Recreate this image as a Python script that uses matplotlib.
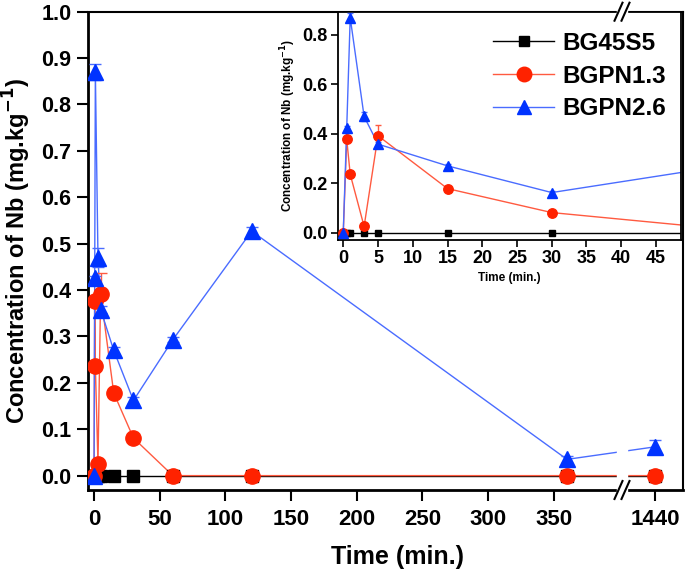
import matplotlib
matplotlib.use("Agg")
import matplotlib.pyplot as plt
import numpy as np
from matplotlib.lines import Line2D
from matplotlib.patches import Rectangle

plt.rcParams["font.family"] = ["Liberation Sans", "DejaVu Sans"]
plt.rcParams["font.weight"] = "bold"

time = np.array([0, 0.5, 1, 3, 5, 15, 30, 60, 120, 360, 1440])
bg45s5 = np.array([0, 0, 0, 0, 0, 0, 0, 0, 0, 0, 0])
bgpn13 = np.array([0, 0.377, 0.236, 0.025, 0.392, 0.178, 0.081, 0, 0, 0, 0])
bgpn13_err = np.array([0, 0.005, 0.005, 0.004, 0.045, 0.005, 0.004, 0, 0, 0, 0])
bgpn26 = np.array([0, 0.425, 0.870, 0.470, 0.358, 0.270, 0.162, 0.293, 0.527, 0.035, 0.062])
bgpn26_err = np.array([0, 0.006, 0.018, 0.020, 0.008, 0.008, 0.008, 0.006, 0.008, 0.008, 0.015])

main_xticks = [0, 50, 100, 150, 200, 250, 300, 350, 1440]
main_yticks = np.round(np.arange(0, 1.01, 0.1), 1)
inset_xticks = [0, 5, 10, 15, 20, 25, 30, 35, 40, 45]
inset_yticks = [0.0, 0.2, 0.4, 0.6, 0.8]

BLACK = "#000000"
RED = "#ff2200"
RED_LINE = "#ff5a40"
BLUE = "#0033ff"
BLUE_LINE = "#4a6cff"

# broken x axis: everything above the break is shifted left
BREAK = 402.0
SHIFT = 1013.1


def fwd(x):
    x = np.asarray(x, dtype=float)
    return np.where(x <= BREAK, x, x - SHIFT)


def inv(y):
    y = np.asarray(y, dtype=float)
    return np.where(y <= BREAK, y, y + SHIFT)


W, H = 685, 572
fig = plt.figure(figsize=(W / 100, H / 100), dpi=100)

ax = fig.add_axes([88 / W, 1 - 490 / H, (683 - 88) / W, (490 - 11.7) / H])
ax.set_xscale("function", functions=(fwd, inv))

series = [
    ("BG45S5", bg45s5, None, BLACK, BLACK, "s", 8),
    ("BGPN1.3", bgpn13, bgpn13_err, RED, RED_LINE, "o", 11),
    ("BGPN2.6", bgpn26, bgpn26_err, BLUE, BLUE_LINE, "^", 11),
]

for name, y, err, mc, lc, mk, ms in series:
    ax.plot(time, y, color=lc, lw=1.0, zorder=2)
    if err is not None:
        ax.errorbar(time, y, yerr=err, fmt="none", ecolor=lc, elinewidth=1.0,
                    capsize=4, capthick=1.0, zorder=3)
    ax.plot(time, y, ls="none", marker=mk, ms=ms, color=mc, mec=mc, zorder=4)

ax.set_xlim(-4.6, 1461.4)
ax.set_ylim(-0.031, 1.0)
ax.set_xticks(main_xticks)
ax.set_xticklabels([str(t) for t in main_xticks])
ax.set_yticks(main_yticks)
ax.set_yticklabels([f"{v:.1f}" for v in main_yticks])
ax.minorticks_off()
ax.tick_params(direction="out", length=8, width=1.5, labelsize=15.5, pad=4)
ax.tick_params(axis="x", labelsize=16, pad=6)
for lab in ax.get_xticklabels() + ax.get_yticklabels():
    lab.set_fontweight("bold")
for s in ["left", "bottom"]:
    ax.spines[s].set_linewidth(2.0)
for s in ["top", "right"]:
    ax.spines[s].set_linewidth(1.5)
ax.set_xlabel("Time (min.)", fontsize=18, fontweight="bold")
ax.xaxis.set_label_coords(0.521, -0.115)
ax.set_ylabel("Concentration of Nb (mg.kg$^{\\mathbf{-1}}$)", fontsize=17,
              fontweight="bold", labelpad=6)

# inset
ins = fig.add_axes([337.7 / W, 1 - 240 / H, (681 - 337.7) / W, (240 - 11.7) / H])
for name, y, err, mc, lc, mk, ms in series:
    ins.plot(time, y, color=lc, lw=1.0, zorder=2)
    if err is not None:
        ins.errorbar(time, y, yerr=err, fmt="none", ecolor=lc, elinewidth=1.0,
                     capsize=2.5, capthick=1.0, zorder=3)
    ins.plot(time, y, ls="none", marker=mk, ms=ms * 0.62, color=mc, mec=mc, zorder=4)
ins.set_xlim(-0.8, 48.6)
ins.set_ylim(-0.03, 0.894)
ins.set_xticks(inset_xticks)
ins.set_yticks(inset_yticks)
ins.set_yticklabels([f"{v:.1f}" for v in inset_yticks])
ins.tick_params(direction="out", length=5, width=1.2, labelsize=13, pad=2)
for lab in ins.get_xticklabels() + ins.get_yticklabels():
    lab.set_fontweight("bold")
for s in ins.spines.values():
    s.set_linewidth(1.3)
ins.set_xlabel("Time (min.)", fontsize=8.5, fontweight="bold", labelpad=4)
ins.set_ylabel("Concentration of Nb (mg.kg$^{\\mathbf{-1}}$)", fontsize=8.5,
               fontweight="bold", labelpad=3)

handles = [Line2D([], [], color=lc, lw=1.0, marker=mk, ms=ms * 0.95, mfc=mc, mec=mc)
           for name, y, err, mc, lc, mk, ms in series]
leg = ins.legend(handles, [s[0] for s in series], loc="upper right",
                 bbox_to_anchor=(1.0, 0.975), frameon=False, fontsize=17.5,
                 handlelength=2.5, handletextpad=0.35, labelspacing=0.4,
                 borderaxespad=0.2)
for t in leg.get_texts():
    t.set_fontweight("bold")

# axis break marks and gaps
def fx(px):
    return px / W


def fy(py):
    return 1 - py / H


for y0, y1 in [(440, 495), (6, 17)]:
    fig.add_artist(Rectangle((fx(617), fy(y1)), fx(627) - fx(617), fy(y0) - fy(y1),
                             transform=fig.transFigure, color="white", zorder=20))
for yc in [490, 11.7]:
    for xc in [618.5, 625.5]:
        fig.add_artist(Line2D([fx(xc - 4), fx(xc + 4)], [fy(yc + 9), fy(yc - 9)],
                              transform=fig.transFigure, color="black", lw=1.5,
                              zorder=21))

fig.savefig("out.png", dpi=100)
